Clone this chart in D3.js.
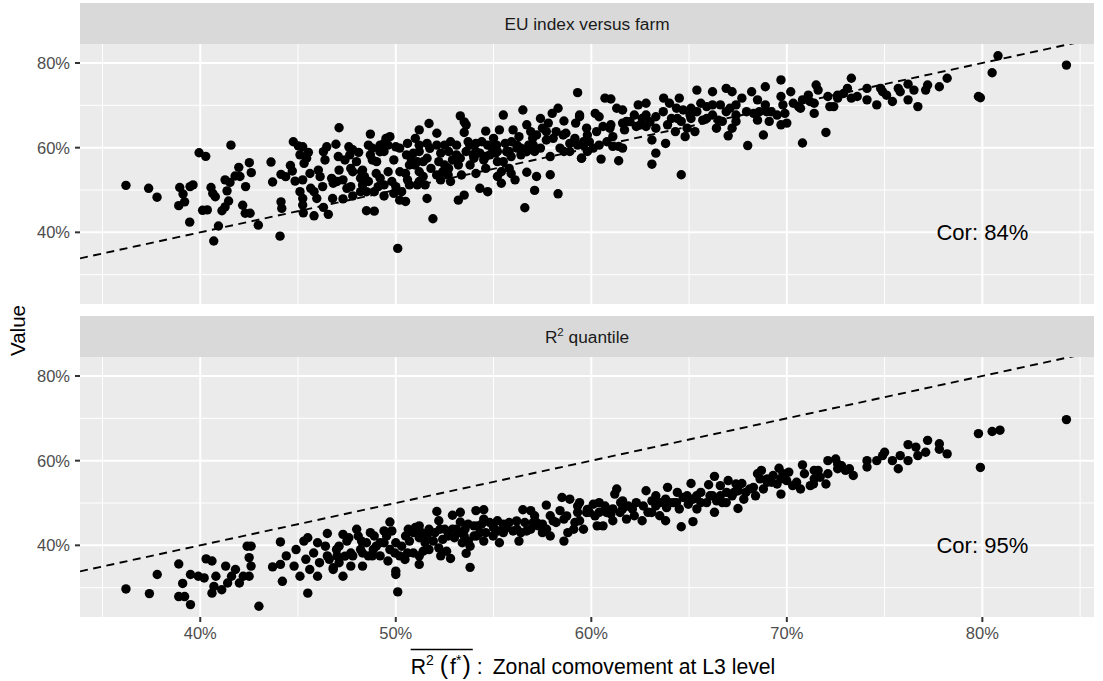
<!DOCTYPE html>
<html><head><meta charset="utf-8">
<script src="https://cdn.jsdelivr.net/npm/d3@7"></script>
<style>body{margin:0;background:#fff} svg{display:block} text{font-family:"Liberation Sans",Arial,sans-serif}</style>
</head><body><svg id="c" width="1103" height="681"></svg>
<script>
const panelTitles = ["EU index versus farm", "R2 quantile"];
const corLabels = ["Cor: 84%", "Cor: 95%"];
const xMajor = [40, 50, 60, 70, 80];
const xMinor = [35, 45, 55, 65, 75, 85];
const yMajor = [40, 60, 80];
const yMinor = [30, 50, 70];
const yTitle = "Value";
const xTitleRest = "Zonal comovement at L3 level";

// Panel 1: EU index versus farm  [x %, y %]
const euFarm = [
[36.2,51.1],[37.36,50.4],[37.79,48.3],[38.95,50.6],[39.12,49.05],[38.9,46.3],[39.2,47.2],[39.48,50.8],[39.63,51.2],[39.46,42.4],[39.94,58.8],[40.28,57.95],[40.55,50.6],[40.64,49.2],[40.77,48.4],[40.12,45.2],[40.36,45.3],[40.69,37.95],[40.93,41.5],[41.11,45.1],[41.27,46.0],[41.45,47.4],[41.37,49.8],[41.27,52.4],[41.52,51.8],[41.57,60.6],[41.78,53.3],[41.97,55.35],[42.03,53.2],[42.32,50.8],[42.17,46.4],[42.3,44.5],[42.55,44.5],[42.51,56.45],[42.61,54.1],[42.97,41.7],[43.62,56.6],[43.7,51.9],[44.08,39.1],[44.13,53.7],[44.37,53.15],[44.13,47.2],[44.17,45.65],[44.61,55.8],[44.71,54.5],[44.76,61.4],[45.02,60.4],[45.24,60.2],[45.1,58.3],[45.53,58.9],[45.31,56.3],[45.44,57.5],[44.85,52.1],[45.24,52.4],[45.1,49.6],[45.24,48.0],[45.24,46.45],[45.27,44.6],[45.61,53.9],[45.65,50.4],[45.82,49.6],[45.96,48.0],[45.82,43.9],[46.04,54.7],[46.13,53.15],[46.3,59.05],[46.47,60.2],[46.38,57.1],[46.26,50.8],[46.3,45.9],[46.55,44.25],[46.77,48.0],[46.72,52.75],[46.94,60.8],[47.06,57.9],[46.8,51.6],[47.1,64.7],
[46.8,52.3],[47.3,52.4],[47.3,47.9],[47.6,60.2],[47.8,59.5],[48.1,58.9],[47.4,57.1],[47.7,55.1],[47.8,54.3],[47.7,50.8],[47.8,48.6],[48.3,54.7],[48.4,53.2],[48.3,51.2],[48.6,52.0],[48.5,49.6],[48.5,45.1],[48.9,45.0],[48.7,63.2],[48.6,60.6],[48.7,58.3],[48.8,57.1],[49.0,53.9],[49.2,52.8],[49.1,50.8],[49.4,48.6],[49.4,61.0],[49.5,62.2],[49.7,62.6],[49.6,60.6],[49.4,59.1],[49.9,57.1],[49.8,52.0],[49.9,49.2],[50.0,50.8],[50.1,36.2],[50.2,47.6],[50.5,47.3],[50.2,59.9],[50.6,61.0],[50.5,53.9],[50.6,52.4],[50.8,57.1],[50.9,58.7],[51.0,62.2],[51.2,64.2],[51.2,60.6],[51.6,61.0],[51.1,56.7],[51.2,54.3],[51.2,52.0],[51.5,51.2],[51.6,48.0],[51.6,57.5],[51.7,65.7],[51.9,43.2],[52.1,60.6],[52.1,63.4],[52.3,58.7],[52.2,56.7],[52.4,54.3],[52.3,52.4],[52.5,60.6],[52.8,61.4],[52.7,59.1],[52.9,57.1],[52.8,52.0],[53.2,47.6],[53.5,48.8],[53.3,67.5],[53.5,66.1],[53.6,65.4],[53.5,63.6],[53.7,61.4],[53.6,59.1],[53.3,57.5],[53.2,55.9],[54.1,53.9],[54.0,57.5],[54.1,61.0],[54.4,61.4],[54.3,58.7],[54.5,57.1],[54.6,63.9],[54.7,60.6],[54.6,55.1],[54.3,50.4],[54.7,49.6],[55.0,62.2],[55.1,58.7],[55.2,53.2],[55.2,56.7],[55.4,51.6],[55.3,64.2],[55.5,67.7],[55.6,61.0],[55.8,59.1],[55.8,55.1],[55.9,53.9],[56.1,52.4],[56.0,64.2],[56.3,62.6],[56.4,58.3],[56.5,68.9],[56.7,65.4],[56.9,63.8],[56.8,60.6],[56.7,54.2],[56.6,45.8],[57.1,49.9],[57.2,53.2],[57.1,59.1],[57.4,66.9],[57.5,64.6],[57.7,61.8],[57.8,65.8],[57.9,57.9],[57.9,53.6],[58.0,68.1],[58.3,69.3],[58.3,49.1],[58.4,59.9],[58.6,66.3],[58.7,63.4],[58.9,61.0],[59.3,73.0],[59.2,65.8],[59.4,67.7],[59.5,57.5],[59.6,60.6],[59.8,63.0],
[48.2,49.6],[49.2,60.6],[50.0,60.2],[50.7,55.9],[51.2,59.1],[52.7,55.1],[55.2,59.1],[56.2,59.9],[57.0,62.2],[58.2,63.8],[58.9,59.1],[47.0,52.0],[47.5,50.4],[47.1,54.7],[48.2,52.8],[48.9,49.6],[49.4,51.2],[48.8,59.9],[50.3,49.6],[50.7,51.2],[51.1,51.2],[51.4,53.2],[51.8,55.1],[52.5,55.9],[53.1,58.3],[53.8,55.9],[54.1,59.1],[54.6,57.9],[54.9,60.2],[55.4,54.3],[55.5,56.7],[55.9,57.9],[56.2,60.6],[56.4,59.9],[57.4,59.9],[57.7,63.8],[58.6,59.1],[59.3,60.6],
[47.65,58.3],[47.99,56.7],[48.25,54.3],[49.02,56.7],[49.19,59.05],[49.61,54.3],[50.21,54.3],[50.55,58.3],[50.98,55.9],[51.4,56.7],[51.74,59.85],[52.09,53.55],[52.68,53.55],[53.11,60.6],[53.36,53.55],[53.79,60.6],[53.96,58.3],[54.81,58.3],[55.16,60.6],[55.67,59.05],[55.92,61.4],[56.69,59.05],[57.03,60.6],[57.2,63.0],[58.05,62.2],[58.56,63.0],[59.16,62.2],
[59.4,67.3],[59.6,61.4],[59.5,57.5],[59.8,59.1],[60.1,59.9],[60.2,68.1],[60.4,67.3],[60.5,57.3],[60.7,71.7],[61.0,71.5],[60.6,65.0],[60.8,61.4],[61.0,65.4],[61.1,62.6],[61.3,69.3],[61.4,60.3],[61.4,56.9],[61.6,68.9],[61.6,65.8],[61.7,64.2],[61.6,59.9],[62.2,67.7],[62.4,70.1],[62.8,70.5],[62.6,66.9],[62.3,65.0],[62.8,65.0],[63.1,61.8],[63.3,58.7],[63.1,56.1],[63.3,67.3],[63.7,71.7],[63.9,65.4],[63.8,61.0],[64.0,70.5],[64.1,66.9],[64.3,63.8],[64.5,71.7],[64.7,68.9],[64.6,66.2],[64.6,53.6],[64.8,62.6],[65.1,69.3],[65.1,66.9],[65.3,63.8],[65.4,73.6],[65.6,70.5],[65.7,66.5],[65.9,69.7],[66.2,73.2],[66.2,67.7],[66.4,64.6],[66.6,70.1],[66.7,66.2],[66.9,74.0],[67.2,73.2],[66.9,68.5],[67.2,64.6],[67.0,62.8],[67.4,67.7],[67.4,70.1],[67.7,71.7],[68.0,60.5],[68.2,73.2],[68.5,71.3],[68.3,68.1],[68.5,66.5],[68.9,74.4],[68.9,70.1],[68.8,63.0],[69.1,66.2],[69.2,68.5],[69.7,72.1],[69.7,76.0],[69.8,70.1],[69.7,65.4],[70.0,65.8],[70.2,73.2],[70.6,69.7],[70.8,71.3],[70.8,61.1],[71.1,72.4],[71.4,68.1],[71.5,74.8],[71.6,73.6],[72.0,63.6],[72.1,72.1],[72.2,69.7],[72.6,72.4],
[59.9,61.4],[60.4,60.6],[61.1,60.3],[61.8,66.2],[62.8,67.7],[63.3,64.6],[64.4,66.9],[64.9,64.6],[65.4,68.5],[66.2,70.1],[66.5,66.5],[67.4,66.2],[68.6,68.5],[69.5,67.7],[69.9,68.1],[70.7,69.3],[71.4,70.5],
[59.76,64.6],[60.27,63.8],[60.95,64.6],[61.98,66.15],[62.49,65.35],[63.0,66.15],[63.68,68.5],[64.36,69.3],[65.05,67.7],[65.9,66.9],[67.09,69.3],[67.94,68.5],[68.97,68.5],[70.33,70.5],[71.18,70.9],
[72.4,69.7],[72.6,71.7],[72.9,72.8],[73.1,74.0],[73.3,76.4],[73.3,71.7],[73.6,72.1],[74.1,74.0],[74.1,71.3],[74.6,70.1],[74.8,74.0],[74.9,73.2],[75.1,72.4],[75.4,70.9],[75.7,74.0],[75.8,73.2],[76.2,75.0],[76.2,71.3],[76.5,73.6],[76.7,69.7],[77.1,73.6],[77.2,74.8],[77.8,74.4],[78.2,76.4],[79.8,72.1],[79.9,71.8],[80.5,77.7],[80.8,81.7],[84.3,79.5]
];

// Panel 2: R2 quantile  [x %, y %]
const r2Quantile = [
[36.2,29.7],[37.4,28.6],[37.8,33.1],[38.9,35.6],[39.1,31.0],[38.9,27.9],[39.2,27.9],[39.5,26.0],[39.5,33.1],[39.9,32.7],[40.2,32.3],[40.3,36.8],[40.6,36.3],[40.8,32.7],[40.7,30.3],[40.6,28.7],[41.1,29.5],[41.3,35.1],[41.4,31.1],[41.6,32.7],[41.8,34.3],[42.0,31.1],[42.2,32.7],[42.4,39.8],[42.6,39.8],[42.5,37.1],[42.6,35.1],[42.5,32.7],[43.0,25.6],[43.7,34.9],[44.1,35.5],[44.1,40.8],[44.2,31.5],[44.4,37.5],[44.8,35.1],[44.9,39.0],[45.1,32.7],[45.3,41.0],[45.5,41.8],[45.4,36.7],[45.6,34.3],[45.5,28.7],[45.8,38.2],[46.0,32.7],[46.0,40.6],[46.4,39.8],[46.5,42.8],[46.1,35.9],[46.5,37.5],[46.8,34.3],[47.0,37.5],[47.1,35.9],
[46.6,36.7],[46.8,34.7],[47.3,42.6],[47.3,32.7],[47.6,41.8],[47.7,38.2],[47.7,35.1],[47.8,37.5],[48.0,43.8],[48.2,39.0],[48.3,35.1],[48.5,40.6],[48.7,43.0],[48.8,37.5],[49.0,39.8],[48.9,42.2],[49.2,37.5],[49.4,43.4],[49.4,40.6],[49.7,39.0],[49.7,45.5],[49.8,43.4],[49.6,36.3],[50.0,33.9],[50.0,33.1],[50.1,29.0],[50.2,37.5],[50.3,39.8],[50.5,42.2],[50.7,41.0],[50.9,38.2],[51.0,44.2],[51.2,44.6],[51.2,41.8],[51.2,35.5],[51.2,37.5],[51.5,40.6],[51.7,43.8],[52.0,43.0],[52.1,48.0],[52.2,45.8],[52.2,39.4],[52.3,37.5],[52.4,41.4],[52.6,38.6],[52.8,36.9],[52.9,43.8],[52.9,47.1],[53.0,41.8],[53.3,47.8],[53.3,45.5],[53.4,40.6],[53.6,38.1],[53.7,45.0],[53.8,34.8],[53.8,39.8],[54.0,42.2],[54.1,48.2],[54.2,44.6],[54.5,48.4],[54.5,46.2],[54.5,41.0],[54.6,43.0],[55.0,44.2],[55.2,45.8],[55.3,40.6],[55.5,43.0],[55.8,45.4],[56.0,43.4],[56.3,41.0],[56.5,48.4],[56.6,45.4],[56.9,48.2],[56.9,43.8],[57.1,47.0],[57.3,44.6],[57.5,43.0],[57.7,49.5],[57.9,47.0],[57.9,42.2],[58.2,45.4],[58.4,48.2],[58.5,51.3],[58.6,41.0],[58.8,43.0],[58.9,50.9],[59.3,47.8],[59.3,49.3],[59.4,45.8],[59.6,43.8],[59.8,48.5],
[47.1,39.8],[47.5,41.0],[48.3,38.2],[48.6,37.5],[49.2,40.6],[50.0,40.6],[50.6,38.2],[50.9,43.0],[51.6,42.2],[51.7,39.0],[52.5,43.8],[53.1,43.8],[53.5,42.2],[54.0,44.6],[54.3,43.0],[54.8,45.4],[55.5,45.0],[56.2,43.8],[56.4,43.0],[57.2,45.4],[57.5,45.0],[58.6,46.2],[59.1,43.8],
[46.97,39.0],[47.4,37.45],[48.08,42.2],[48.25,41.0],[48.85,39.0],[49.53,42.2],[49.95,38.2],[50.47,36.65],[50.64,43.8],[51.32,43.0],[51.4,38.6],[51.92,41.0],[52.26,43.8],[52.68,42.2],[53.2,43.0],[53.54,43.8],[53.71,41.0],[54.13,42.2],[54.39,44.97],[54.98,42.2],[55.24,43.4],[55.67,44.2],[56.18,45.77],[56.69,43.4],[57.03,45.4],[57.71,43.8],[58.05,45.77],[58.74,46.95],[59.16,45.4],
[59.4,50.1],[60.1,49.7],[60.4,50.1],[60.3,44.6],[60.6,44.6],[60.7,49.3],[61.0,47.4],[61.1,45.8],[61.3,53.3],[61.2,52.1],[61.5,50.1],[61.6,50.5],[61.8,46.2],[62.1,48.6],[62.3,50.1],[62.6,45.8],[62.8,52.9],[62.9,47.8],[63.1,50.5],[63.3,49.3],[63.5,47.0],[63.8,45.8],[63.8,50.9],[63.9,53.7],[64.2,50.1],[64.4,52.5],[64.5,48.6],[64.6,44.4],[64.7,51.3],[65.1,54.6],[65.2,45.6],[65.2,50.9],[65.4,48.6],[65.6,52.5],[65.9,50.1],[66.0,54.3],[66.2,51.7],[66.3,56.3],[66.3,47.8],[66.6,54.1],[66.7,50.1],[67.0,55.3],[66.9,50.1],[67.3,52.5],[67.4,54.5],[67.5,48.7],[67.7,54.6],[67.8,50.9],[68.1,53.3],[68.4,51.7],[68.5,56.9],[68.7,57.7],[68.8,53.3],[69.0,55.7],[69.3,56.5],[69.6,58.2],[69.5,54.5],[69.7,52.1],[69.8,56.9],[70.1,57.3],[70.3,54.1],[70.7,53.3],[70.8,59.0],[70.9,56.9],[71.2,54.1],[71.4,57.7],[71.6,57.7],[72.0,54.5],[72.1,56.9],[72.1,60.0],[72.5,60.4],[72.6,58.1],
[59.9,47.8],[60.4,47.8],[61.1,48.6],[61.6,48.6],[62.2,47.0],[63.3,51.7],[64.0,50.1],[64.9,51.7],[65.6,50.1],[66.6,51.7],[67.2,51.7],[67.9,52.5],[69.0,54.9],[69.7,55.7],[70.5,54.9],[71.4,55.7],
[59.76,47.75],[60.19,46.95],[60.78,47.75],[61.47,47.75],[61.89,49.3],[62.66,49.3],[63.09,47.75],[63.51,50.1],[63.85,48.9],[64.36,50.1],[64.96,49.7],[65.39,51.7],[66.07,51.7],[66.41,50.5],[66.92,52.5],[67.52,52.9],[68.29,53.7],[68.63,55.7],[69.22,54.9],[69.99,55.3],[71.36,54.5],[71.7,56.1],
[72.6,59.2],[72.8,58.8],[73.0,57.7],[73.2,58.1],[73.4,56.5],[74.1,60.0],[74.1,58.5],[74.6,60.0],[74.9,61.2],[75.0,62.0],[75.4,60.0],[75.7,58.1],[75.8,61.2],[76.2,63.8],[76.2,60.0],[76.6,63.2],[76.7,61.2],[77.1,62.0],[77.2,64.8],[77.8,64.0],[77.8,62.7],[78.2,61.6],[79.8,66.4],[79.9,58.4],[80.5,66.9],[80.9,67.2],[84.3,69.7]
];

const corPos = [80, 40];
const xDomain = [33.85, 85.71];
const yDomain = [23.07, 84.49];

const svg = d3.select("#c");
const L = 80, R = 1094;
const panels = [
  {strip: [3, 44], top: 44, bottom: 304, data: euFarm, title: panelTitles[0], cor: corLabels[0]},
  {strip: [316, 357], top: 357, bottom: 617, data: r2Quantile, title: panelTitles[1], cor: corLabels[1]}
];
const x = d3.scaleLinear().domain(xDomain).range([L, R]);
const fmt = d => d + "%";

panels.forEach((p, i) => {
  const y = d3.scaleLinear().domain(yDomain).range([p.bottom, p.top]);
  const g = svg.append("g");
  g.append("rect").attr("x", L).attr("y", p.strip[0]).attr("width", R - L).attr("height", p.strip[1] - p.strip[0]).attr("fill", "#D9D9D9");
  const st = g.append("text").attr("x", (L + R) / 2).attr("y", (p.strip[0] + p.strip[1]) / 2 + 6)
    .attr("text-anchor", "middle").attr("font-size", 17.3).attr("fill", "#1A1A1A");
  if (i === 1) {
    st.append("tspan").text("R");
    st.append("tspan").attr("font-size", 11.5).attr("dy", -7).text("2");
    st.append("tspan").attr("dy", 7).text(" quantile");
  } else st.text(p.title);
  g.append("rect").attr("x", L).attr("y", p.top).attr("width", R - L).attr("height", p.bottom - p.top).attr("fill", "#EBEBEB");
  const clipId = "clip" + i;
  svg.append("clipPath").attr("id", clipId).append("rect").attr("x", L).attr("y", p.top).attr("width", R - L).attr("height", p.bottom - p.top);
  const pg = g.append("g").attr("clip-path", `url(#${clipId})`);
  pg.selectAll(".xmin").data(xMinor).join("line").attr("x1", d => x(d)).attr("x2", d => x(d)).attr("y1", p.top).attr("y2", p.bottom).attr("stroke", "#fff").attr("stroke-width", 1);
  pg.selectAll(".ymin").data(yMinor).join("line").attr("y1", d => y(d)).attr("y2", d => y(d)).attr("x1", L).attr("x2", R).attr("stroke", "#fff").attr("stroke-width", 1);
  pg.selectAll(".xmaj").data(xMajor).join("line").attr("x1", d => x(d)).attr("x2", d => x(d)).attr("y1", p.top).attr("y2", p.bottom).attr("stroke", "#fff").attr("stroke-width", 2);
  pg.selectAll(".ymaj").data(yMajor).join("line").attr("y1", d => y(d)).attr("y2", d => y(d)).attr("x1", L).attr("x2", R).attr("stroke", "#fff").attr("stroke-width", 2);
  pg.append("line").attr("x1", x(xDomain[0])).attr("y1", y(xDomain[0])).attr("x2", x(xDomain[1])).attr("y2", y(xDomain[1]))
    .attr("stroke", "#000").attr("stroke-width", 1.9).attr("stroke-dasharray", "8,5.5");
  pg.selectAll("circle").data(p.data).join("circle").attr("cx", d => x(d[0])).attr("cy", d => y(d[1])).attr("r", 4.7).attr("fill", "#000");
  g.append("text").attr("x", x(corPos[0])).attr("y", y(corPos[1])).attr("dy", "0.35em").attr("text-anchor", "middle")
    .attr("font-size", 22).attr("fill", "#000").text(p.cor);
  const ya = g.append("g");
  ya.selectAll("line").data(yMajor).join("line").attr("x1", L - 5).attr("x2", L).attr("y1", d => y(d)).attr("y2", d => y(d)).attr("stroke", "#333").attr("stroke-width", 2);
  ya.selectAll("text").data(yMajor).join("text").attr("x", L - 10).attr("y", d => y(d)).attr("dy", "0.36em").attr("text-anchor", "end")
    .attr("font-size", 16.5).attr("fill", "#4D4D4D").text(fmt);
  if (i === 1) {
    const xa = g.append("g");
    xa.selectAll("line").data(xMajor).join("line").attr("x1", d => x(d)).attr("x2", d => x(d)).attr("y1", p.bottom).attr("y2", p.bottom + 5).attr("stroke", "#333").attr("stroke-width", 2);
    xa.selectAll("text").data(xMajor).join("text").attr("x", d => x(d)).attr("y", p.bottom + 22).attr("text-anchor", "middle")
      .attr("font-size", 16.5).attr("fill", "#4D4D4D").text(fmt);
  }
});

svg.append("text").attr("transform", `translate(25,${(44 + 617) / 2}) rotate(-90)`).attr("text-anchor", "middle")
  .attr("font-size", 20.6).attr("fill", "#000").text(yTitle);

// x title: overline(R^2 (f*)) : Zonal comovement at L3 level
const tg = svg.append("g");
const baseY = 674, fs = 21.2;
const t1 = tg.append("text").attr("y", baseY).attr("font-size", fs).attr("fill", "#000");
t1.append("tspan").text("R");
t1.append("tspan").attr("font-size", 14).attr("dy", -9).text("2");
t1.append("tspan").attr("dy", 9).attr("dx", 6).attr("font-size", 25).text("(");
t1.append("tspan").attr("dx", 2).text("f");
t1.append("tspan").attr("font-size", 14).attr("dy", -9).text("*");
t1.append("tspan").attr("dy", 9).attr("dx", 1).attr("font-size", 25).text(")");
const tc = tg.append("text").attr("y", baseY).attr("font-size", fs).attr("fill", "#000").text(":");
const t2 = tg.append("text").attr("y", baseY).attr("font-size", fs).attr("fill", "#000").text(xTitleRest);
const b1 = t1.node().getBBox();
const w1 = b1.width;
const wc = tc.node().getComputedTextLength();
const w2 = t2.node().getComputedTextLength();
const gap1 = 6, gap2 = 10;
const total = w1 + gap1 + wc + gap2 + w2;
const x0 = 593 - total / 2;
t1.attr("x", x0);
tc.attr("x", x0 + w1 + gap1);
t2.attr("x", x0 + w1 + gap1 + wc + gap2);
tg.append("line").attr("x1", x0).attr("x2", x0 + w1 + 2).attr("y1", 649.5).attr("y2", 649.5).attr("stroke", "#000").attr("stroke-width", 1.3);
</script></body></html>
